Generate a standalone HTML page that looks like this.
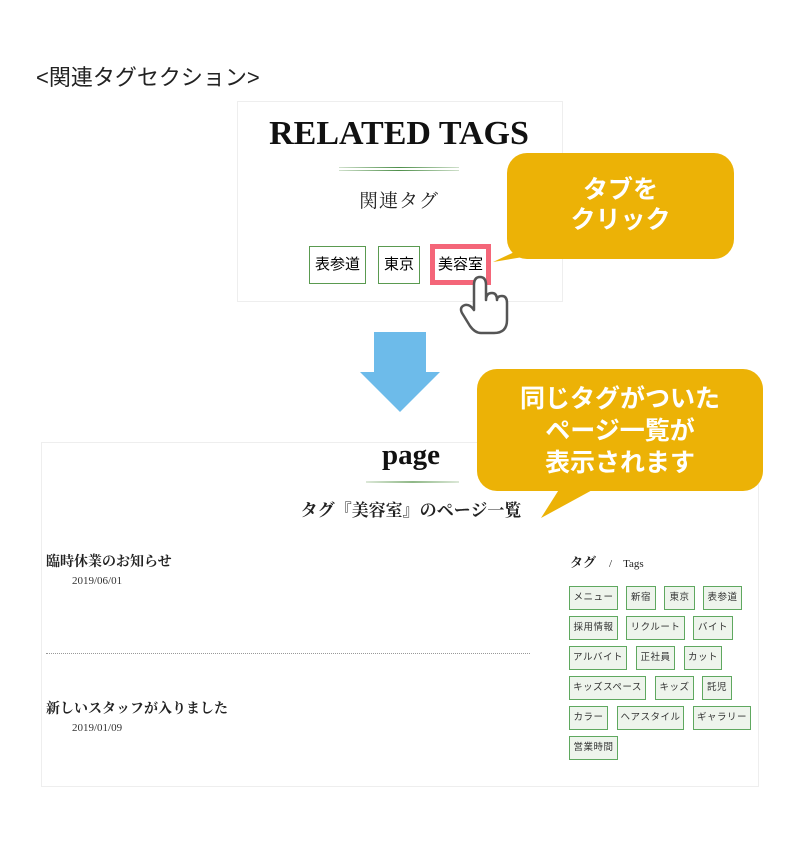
<!DOCTYPE html>
<html><head><meta charset="utf-8"><style>
body{margin:0;width:800px;height:860px;background:#fff;position:relative;overflow:hidden;font-family:"Liberation Sans","Noto Sans CJK JP",sans-serif;}
.a{position:absolute;}
.serif{font-family:"Liberation Serif","Noto Serif CJK SC",serif;}
.tag{position:absolute;height:22px;line-height:22px;border:1.5px solid #5fa85f;background:#eef4ec;font-size:9.5px;color:#333;text-align:center;letter-spacing:0.5px;white-space:nowrap;overflow:hidden;box-sizing:content-box;}
.call{position:absolute;background:#ecb206;border-radius:20px;color:#fff;font-weight:bold;text-align:center;font-size:25px;}
</style></head><body>
<div class="a" style="left:36px;top:60px;font-size:22px;color:#222;">&lt;関連タグセクション&gt;</div>

<div class="a" style="left:237px;top:101px;width:324px;height:199px;border:1px solid #eee;"></div>
<div class="a serif" style="left:237px;top:115px;width:324px;text-align:center;font-size:34px;font-weight:bold;letter-spacing:0px;color:#111;">RELATED TAGS</div>
<div class="a" style="left:339px;top:167px;width:120px;height:1px;background:linear-gradient(90deg,#cfe0cb,#4e8f4a,#cfe0cb);"></div>
<div class="a" style="left:339px;top:170px;width:120px;height:1px;background:linear-gradient(90deg,#cfe0cb,#4e8f4a,#cfe0cb);"></div>
<div class="a serif" style="left:237px;top:186px;width:324px;text-align:center;font-size:19px;color:#222;letter-spacing:1px;">関連タグ</div>
<div class="a" style="left:309px;top:246px;width:55px;height:36px;border:1px solid #5a9a50;font-size:15px;line-height:36px;text-align:center;">表参道</div>
<div class="a" style="left:378px;top:246px;width:40px;height:36px;border:1px solid #5a9a50;font-size:15px;line-height:36px;text-align:center;">東京</div>
<div class="a" style="left:430px;top:244px;width:51px;height:31px;border:5px solid #f46679;font-size:15px;line-height:31px;text-align:center;">美容室</div>

<svg class="a" style="left:0;top:0" width="800" height="860">
<polygon points="540,240 565,250 493,262" fill="#ecb206"/>
<polygon points="560,488 596,488 541,518" fill="#ecb206"/>
<rect x="374" y="332" width="52" height="42" fill="#6dbbea"/>
<polygon points="360,372 440,372 400,412" fill="#6dbbea"/>
<path d="M474,305 L474,285 Q474,277 480,277 Q486,277 486,285 L486,300 Q486,293 492,293 Q497,293 497,300 Q497,296 502,296 Q507,296 507,303 L507,320 Q507,333 494,333 L481,333 Q475,333 470,326 L462,313 Q459,307 465,305 Q470,304 474,310 Z" fill="#fff" stroke="#555" stroke-width="2.5" stroke-linejoin="round"/>
</svg>
<div class="call" style="left:507px;top:153px;width:227px;height:106px;line-height:30px;padding-top:22px;box-sizing:border-box;">タブを<br>クリック</div>

<div class="a" style="left:41px;top:442px;width:716px;height:343px;border:1px solid #eee;"></div>
<div class="a serif" style="left:311px;top:439px;width:200px;text-align:center;font-size:29px;font-weight:bold;color:#111;">page</div>
<div class="a" style="left:366px;top:481px;width:93px;height:2px;background:linear-gradient(90deg,#dce8d8,#8fb887,#dce8d8);"></div>
<div class="a serif" style="left:211px;top:496px;width:400px;text-align:center;font-size:17px;font-weight:bold;color:#222;">タグ『美容室』のページ一覧</div>
<div class="call" style="left:477px;top:369px;width:286px;height:122px;line-height:32px;padding-top:14px;box-sizing:border-box;">同じタグがついた<br>ページ一覧が<br>表示されます</div>

<div class="a serif" style="left:46px;top:551px;font-size:14px;font-weight:bold;color:#222;">臨時休業のお知らせ</div>
<div class="a serif" style="left:72px;top:575px;font-size:11px;color:#333;">2019/06/01</div>
<div class="a" style="left:46px;top:653px;width:484px;border-top:1px dotted #999;"></div>
<div class="a serif" style="left:46px;top:698px;font-size:14px;font-weight:bold;color:#222;">新しいスタッフが入りました</div>
<div class="a serif" style="left:72px;top:722px;font-size:11px;color:#333;">2019/01/09</div>

<div class="a serif" style="left:570px;top:552px;font-size:13px;font-weight:bold;color:#222;">タグ　<span style="font-weight:normal;font-size:11px;">/　Tags</span></div>
<div class="tag" style="left:569px;top:586px;width:47px">メニュー</div>
<div class="tag" style="left:626px;top:586px;width:28px">新宿</div>
<div class="tag" style="left:664px;top:586px;width:29px">東京</div>
<div class="tag" style="left:703px;top:586px;width:37px">表参道</div>
<div class="tag" style="left:569px;top:616px;width:47px">採用情報</div>
<div class="tag" style="left:626px;top:616px;width:57px">リクルート</div>
<div class="tag" style="left:693px;top:616px;width:38px">バイト</div>
<div class="tag" style="left:569px;top:646px;width:56px">アルバイト</div>
<div class="tag" style="left:636px;top:646px;width:37px">正社員</div>
<div class="tag" style="left:684px;top:646px;width:36px">カット</div>
<div class="tag" style="left:569px;top:676px;width:75px">キッズスペース</div>
<div class="tag" style="left:655px;top:676px;width:37px">キッズ</div>
<div class="tag" style="left:702px;top:676px;width:28px">託児</div>
<div class="tag" style="left:569px;top:706px;width:37px">カラー</div>
<div class="tag" style="left:617px;top:706px;width:65px">ヘアスタイル</div>
<div class="tag" style="left:693px;top:706px;width:56px">ギャラリー</div>
<div class="tag" style="left:569px;top:736px;width:47px">営業時間</div>
</body></html>
